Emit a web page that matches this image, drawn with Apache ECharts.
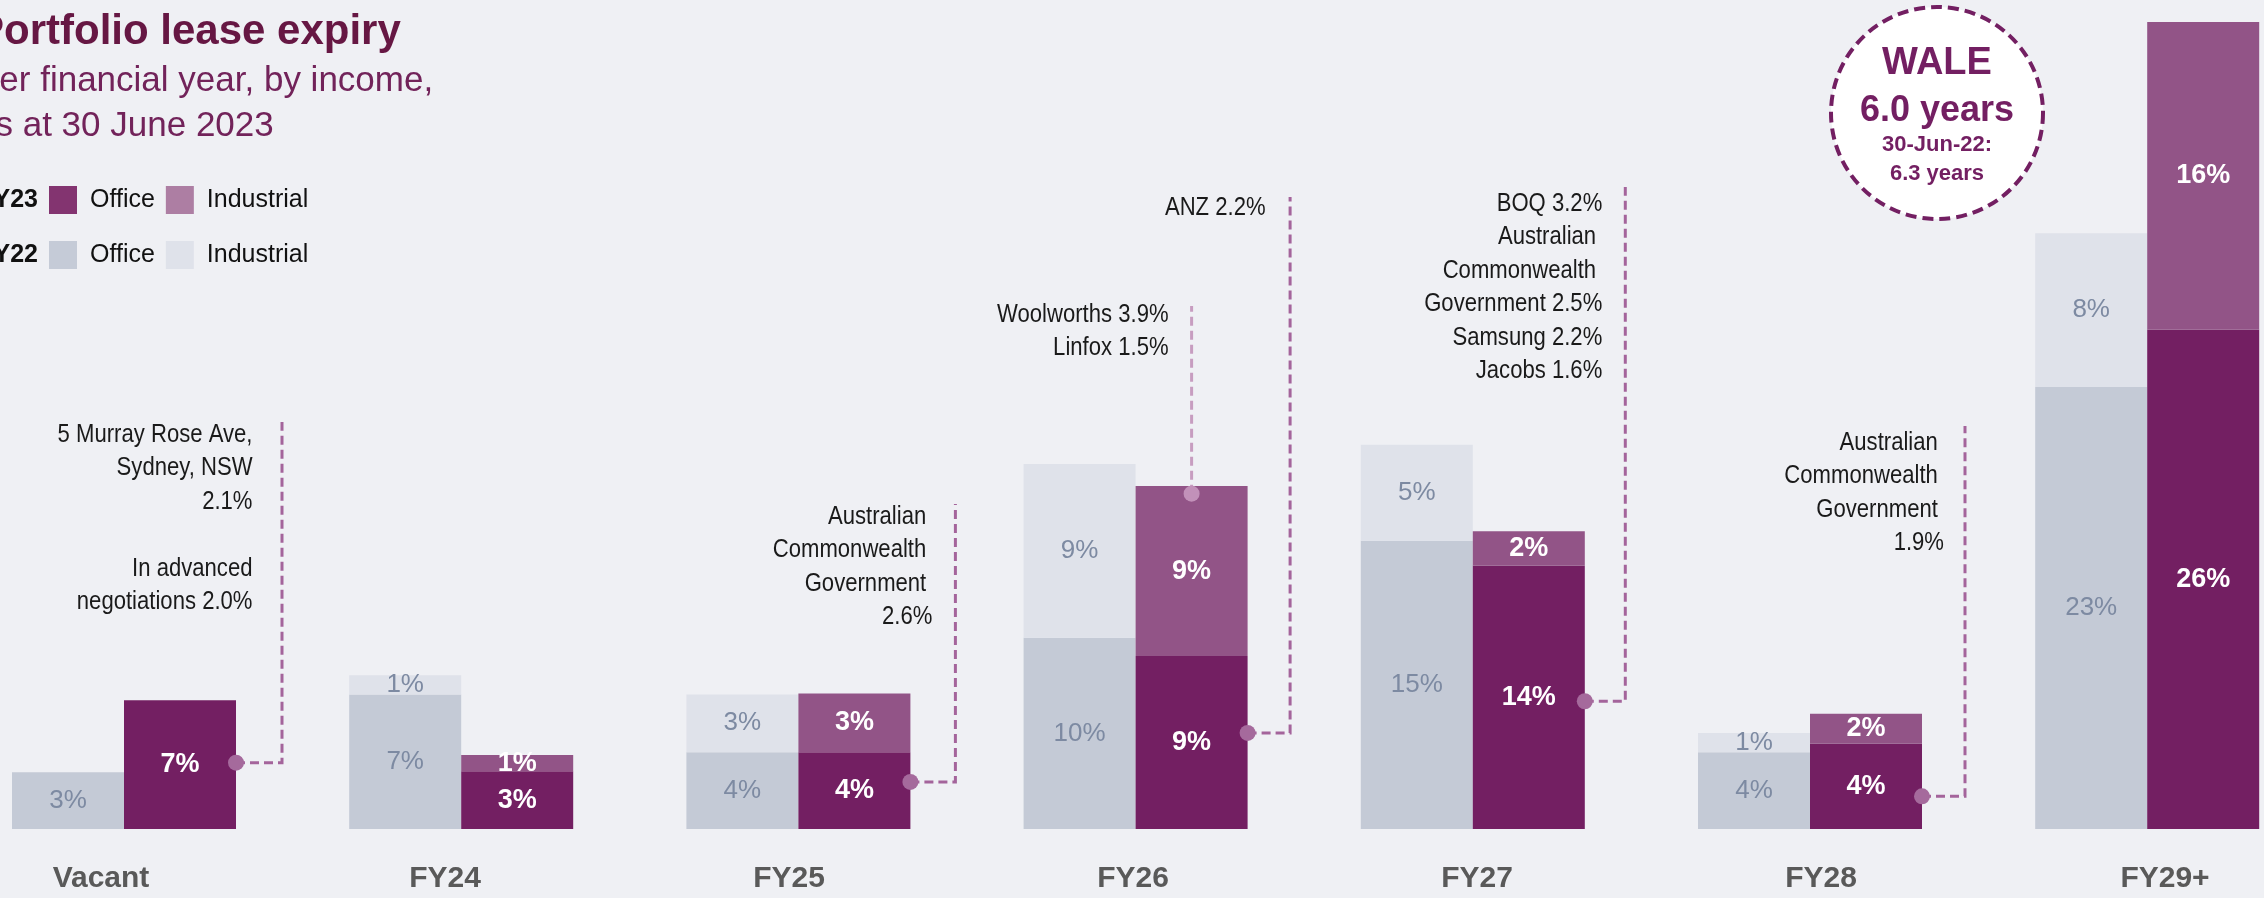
<!DOCTYPE html>
<html>
<head>
<meta charset="utf-8">
<title>Portfolio lease expiry</title>
<script src="https://cdn.jsdelivr.net/npm/echarts@6/dist/echarts.min.js"></script>
<style>
html, body { margin:0; padding:0; background:#eff0f4; }
#main { width:2264px; height:898px; }
</style>
</head>
<body>
<div id="main"></div>
<script>
// share of income expiring, %
var categories = ['Vacant', 'FY24', 'FY25', 'FY26', 'FY27', 'FY28', 'FY29+'];
var fy22Office = [2.95, 7.0, 4.0, 9.95, 15.0, 4.0, 23.0];
var fy22Industrial = [0, 1.0, 3.0, 9.05, 5.0, 1.0, 8.0];
var fy23Office = [6.7, 3.0, 4.0, 9.0, 13.7, 4.45, 26.0];
var fy23Industrial = [0, 0.85, 3.05, 8.85, 1.8, 1.55, 16.0];

// tenant call-outs on the FY23 bars
var calloutCats = ['Vacant', 'FY25', 'FY26', 'FY26', 'FY27', 'FY28'];
var calloutLevels = [3.45, 2.45, 17.45, 5.0, 6.65, 1.7];
var calloutTexts = [
	['5 Murray Rose Ave,', 'Sydney, NSW', '2.1%', '', 'In advanced', 'negotiations 2.0%'],
	['Australian ', 'Commonwealth ', 'Government ', '2.6%'],
	['Woolworths 3.9%', 'Linfox 1.5%'],
	['ANZ 2.2%'],
	['BOQ 3.2%', 'Australian ', 'Commonwealth ', 'Government 2.5%', 'Samsung 2.2%', 'Jacobs 1.6%'],
	['Australian ', 'Commonwealth ', 'Government ', '1.9%']
];

// layout of the call-outs (pixels)
var calloutLayout = [
	{side:'right', dx:46, top:422, textDx:-29.5, textTop:418},
	{side:'right', dx:45, top:504, textDx:-23, textTop:500},
	{side:'top', dx:0, top:306, textDx:-23, textTop:298},
	{side:'right', dx:42.5, top:197, textDx:-24.5, textTop:191},
	{side:'right', dx:40.5, top:187, textDx:-23, textTop:187},
	{side:'right', dx:43, top:426, textDx:-21, textTop:426}
];

var BAR_W = 112;
var FONT = "'Liberation Sans', Arial, sans-serif";
var PURPLE = '#731f62';

function pctLabel(p) {
	return p.value >= 0.5 ? Math.round(p.value) + '%' : '';
}

var myChart = echarts.init(document.getElementById('main'));

var option = {
	animation: false,
	backgroundColor: '#eff0f4',
	legend: [{
		data: [{name:'FY23 Office', itemStyle:{color:'#833470'}}, {name:'FY23 Industrial', itemStyle:{color:'#ad7ea3'}}],
		left: 49, top: 186
	}, {
		data: [{name:'FY22 Office', itemStyle:{color:'#c5cbd7'}}, {name:'FY22 Industrial', itemStyle:{color:'#dfe2ea'}}],
		left: 49, top: 241
	}].map(function(l){
		l.orient = 'horizontal';
		l.icon = 'rect';
		l.itemWidth = 28;
		l.itemHeight = 28;
		l.itemGap = 11;
		l.padding = 0;
		l.selectedMode = false;
		l.formatter = function(name){ return name.slice(5); };
		l.textStyle = {fontSize:25, color:'#111', fontFamily:FONT, padding:[0,0,0,8]};
		return l;
	}),
	grid: [
		{left:-44.6, width:2360.4, top:22, height:807, outerBoundsMode:'none'},
		{left:-71, width:2408, top:22, height:807, outerBoundsMode:'none'}
	],
	xAxis: [{
		type: 'category',
		gridIndex: 0,
		data: categories,
		axisLine: {show:false},
		axisTick: {show:false},
		axisLabel: {show:false}
	}, {
		type: 'category',
		gridIndex: 1,
		data: categories,
		axisLine: {show:false},
		axisTick: {show:false},
		axisLabel: {fontSize:30, fontWeight:'bold', color:'#595959', margin:35, fontFamily:FONT}
	}],
	yAxis: [
		{type:'value', gridIndex:0, min:0, max:42, show:false},
		{type:'value', gridIndex:1, min:0, max:42, show:false}
	],
	series: [{
		name: 'FY22 Office', type: 'bar', stack: 'fy22', data: fy22Office,
		itemStyle: {color:'#c4cad6'}
	}, {
		name: 'FY22 Industrial', type: 'bar', stack: 'fy22', data: fy22Industrial,
		itemStyle: {color:'#dfe2ea'}
	}, {
		name: 'FY23 Office', type: 'bar', stack: 'fy23', data: fy23Office,
		itemStyle: {color:PURPLE}
	}, {
		name: 'FY23 Industrial', type: 'bar', stack: 'fy23', data: fy23Industrial,
		itemStyle: {color:'#925487'}
	}].map(function(s){
		var old = s.name.indexOf('FY22') === 0;
		s.barWidth = BAR_W;
		s.barGap = '0%';
		s.label = {
			show: true,
			position: 'inside',
			formatter: pctLabel,
			fontFamily: FONT,
			fontSize: old ? 26 : 27,
			fontWeight: old ? 'normal' : 'bold',
			color: old ? '#7d8aa2' : '#ffffff'
		};
		return s;
	})
};
myChart.setOption(option, true);

function buildGraphics() {
	var g = [];
	// title block
	g.push({type:'text', x:-24, y:32, style:{text:'Portfolio lease expiry', fill:'#661743',
		font:'bold 42px ' + FONT, align:'left', verticalAlign:'middle'}});
	g.push({type:'text', x:-24, y:81, style:{text:'Per financial year, by income,', fill:'#72235a',
		font:'35px ' + FONT, align:'left', verticalAlign:'middle'}});
	g.push({type:'text', x:-24, y:126, style:{text:'as at 30 June 2023', fill:'#72235a',
		font:'35px ' + FONT, align:'left', verticalAlign:'middle'}});
	g.push({type:'text', x:38, y:200, style:{text:'FY23', fill:'#111', font:'bold 25px ' + FONT,
		align:'right', verticalAlign:'middle'}});
	g.push({type:'text', x:38, y:255, style:{text:'FY22', fill:'#111', font:'bold 25px ' + FONT,
		align:'right', verticalAlign:'middle'}});

	// WALE badge
	g.push({type:'circle', shape:{cx:1937, cy:113, r:106},
		style:{fill:'#ffffff', stroke:PURPLE, lineWidth:4, lineDash:[11, 6]}});
	g.push({type:'text', x:1937, y:64, style:{text:'WALE', fill:PURPLE, font:'bold 38px ' + FONT,
		align:'center', verticalAlign:'middle'}});
	g.push({type:'text', x:1937, y:111, style:{text:'6.0 years', fill:PURPLE, font:'bold 36px ' + FONT,
		align:'center', verticalAlign:'middle'}});
	g.push({type:'text', x:1937, y:145, style:{text:'30-Jun-22:', fill:PURPLE, font:'bold 22px ' + FONT,
		align:'center', verticalAlign:'middle'}});
	g.push({type:'text', x:1937, y:174, style:{text:'6.3 years', fill:PURPLE, font:'bold 22px ' + FONT,
		align:'center', verticalAlign:'middle'}});

	// call-outs
	for (var i = 0; i < calloutCats.length; i++) {
		var lay = calloutLayout[i];
		var cx = myChart.convertToPixel({xAxisIndex:0}, calloutCats[i]);
		var y = myChart.convertToPixel({yAxisIndex:0}, calloutLevels[i]);
		var dotX, lineX, pts, lineColor, dotColor;
		if (lay.side === 'top') {
			dotX = cx + BAR_W / 2;
			lineX = dotX;
			pts = [[dotX, y], [lineX, lay.top]];
			lineColor = '#c79dc0';
			dotColor = '#c291b9';
		} else {
			dotX = cx + BAR_W;
			lineX = dotX + lay.dx;
			pts = [[dotX, y], [lineX, y], [lineX, lay.top]];
			lineColor = '#a4649b';
			dotColor = '#a56a9c';
		}
		g.push({type:'polyline', z:10, shape:{points:pts},
			style:{stroke:lineColor, lineWidth:3, lineDash:[9, 5], fill:null}});
		g.push({type:'circle', z:11, shape:{cx:dotX, cy:y, r:8}, style:{fill:dotColor}});
		// condensed look: squeeze regular text horizontally around its right edge
		g.push({type:'text', z:11, x:lineX + lay.textDx, y:lay.textTop, scaleX:0.85,
			style:{text:calloutTexts[i].join('\n'), fill:'#1a1a1a', fontFamily:FONT, fontSize:26,
				lineHeight:33.5, align:'right', verticalAlign:'top'}});
	}
	return g;
}

myChart.setOption({graphic: buildGraphics()});
</script>
</body>
</html>
